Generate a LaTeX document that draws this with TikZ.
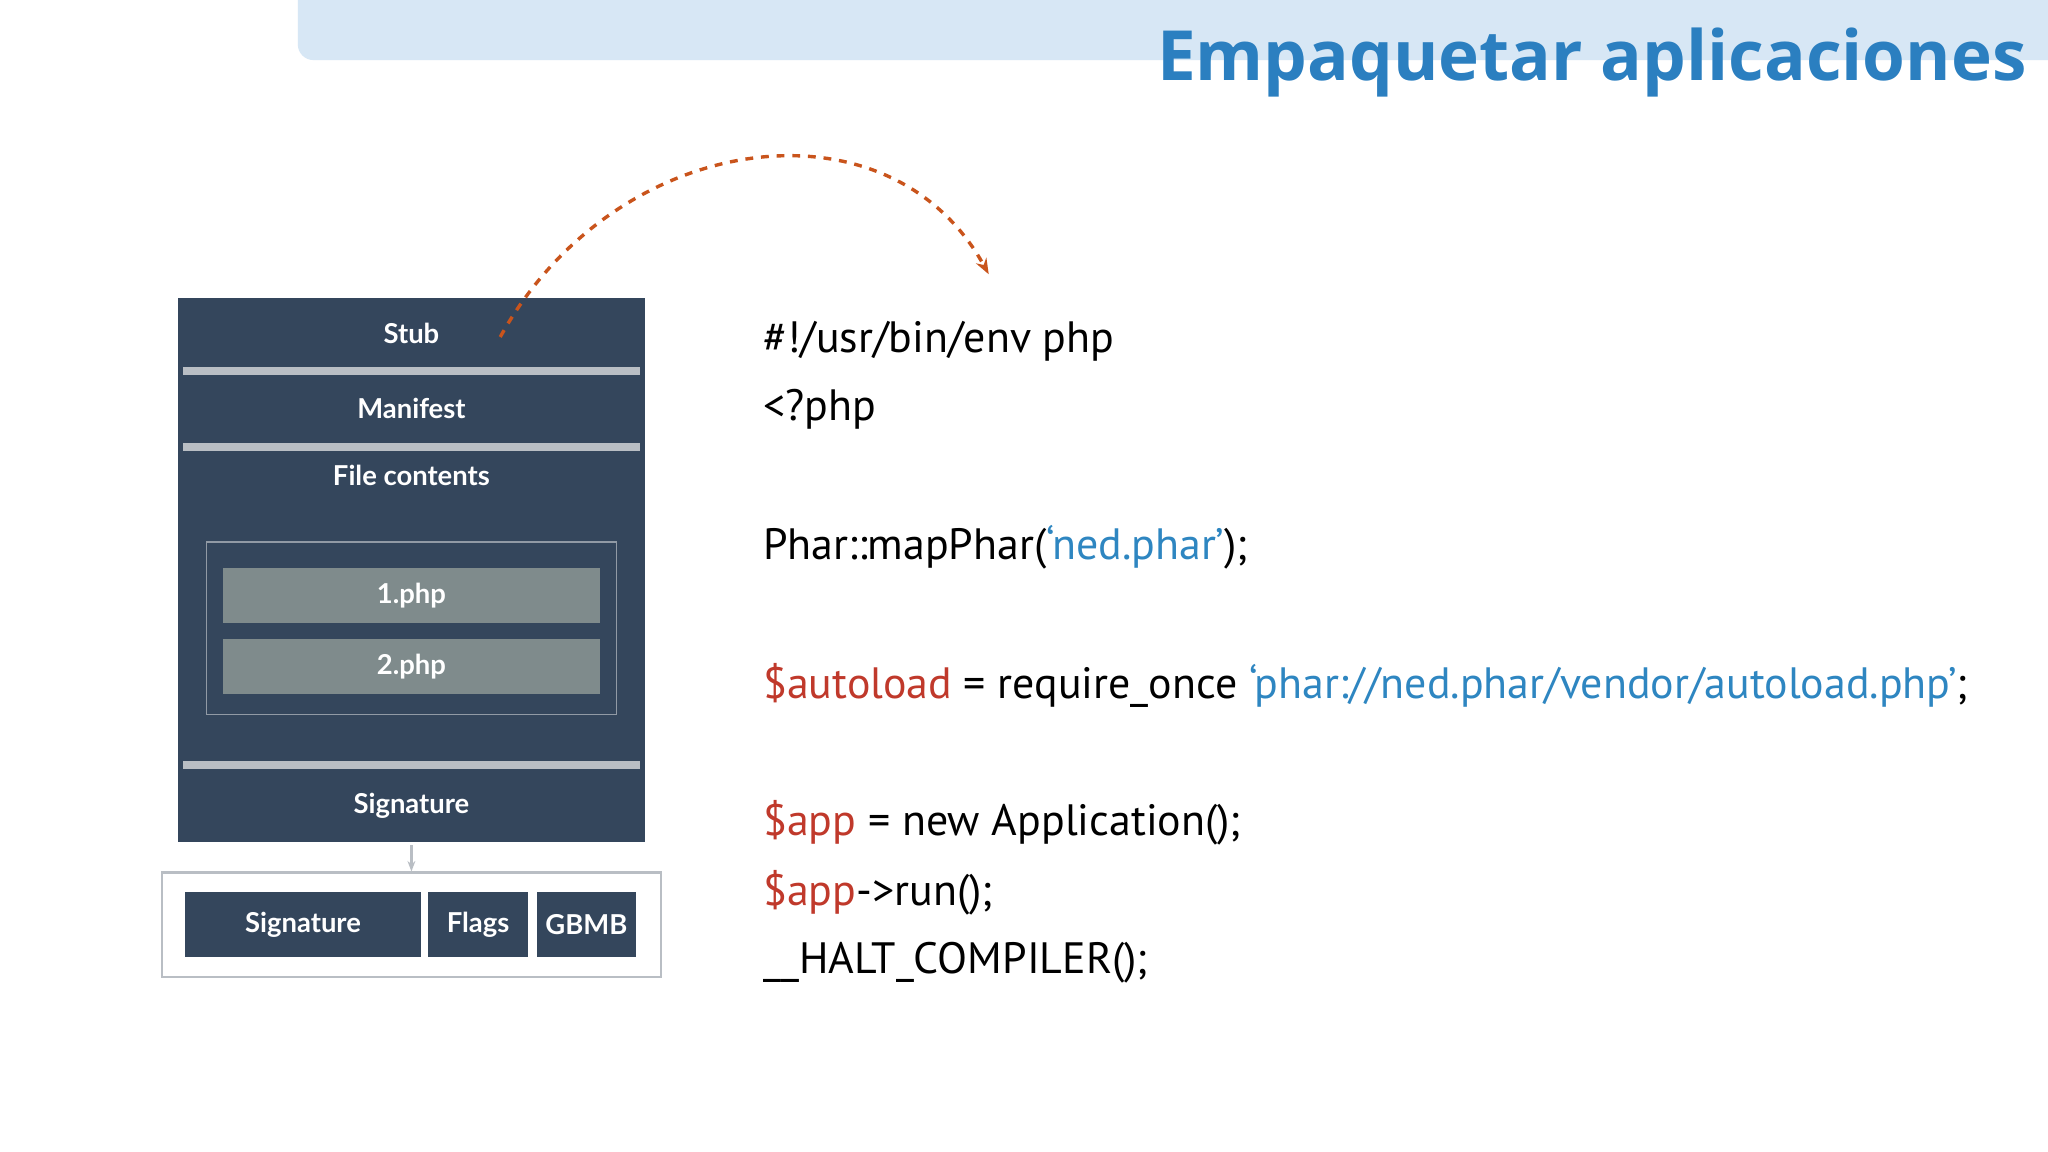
\documentclass[tikz,border=0pt]{standalone}
\usepackage{fontspec}
\setmainfont{Lato}
\newfontfamily\titlefont{Open Sans}
\newfontfamily\codefont{PT Sans}
\usetikzlibrary{arrows.meta}
\definecolor{slate}{HTML}{34465C}
\definecolor{bar}{HTML}{B9BEC4}
\definecolor{filegray}{HTML}{7F8B8C}
\definecolor{titleblue}{HTML}{2B7FC0}
\definecolor{band}{HTML}{D7E7F5}
\definecolor{orng}{HTML}{C9541C}
\definecolor{codered}{HTML}{C0392B}
\definecolor{codeblue}{HTML}{2E86C1}
\tikzset{
  lbl/.style={text=white,font=\bfseries\fontsize{10.5}{12}\selectfont},
  cell/.style={fill=slate,lbl},
  filebox/.style={fill=filegray,lbl},
  sepbar/.style={fill=bar,draw=none},
  codeline/.style={anchor=base west,inner sep=0,font=\codefont\fontsize{16.8}{20}\selectfont},
}
\begin{document}
\begin{tikzpicture}[x=0.5pt,y=-0.5pt]
\useasboundingbox (0,0) rectangle (1568,882);
\fill[white] (0,0) rectangle (1568,882);
% banner
\fill[band,rounded corners=6] (228,-20) rectangle (1600,46);
\node[anchor=base east,inner sep=0,text=titleblue,font=\titlefont\bfseries\fontsize{26.5}{32}\selectfont] (title) at (1552,62) {Empaquetar aplicaciones};
% main box
\fill[slate] (136,228) rectangle (494,645);
\fill[sepbar] (140,281) rectangle (490,287);
\fill[sepbar] (140,339) rectangle (490,345);
\fill[sepbar] (140,583) rectangle (490,589);
\node[lbl] (stub) at (315,255) {Stub};
\node[lbl] (manifest) at (315,313) {Manifest};
\node[lbl] (contents) at (315,364) {File contents};
\node[lbl] (sig) at (315,617) {Signature};
\draw[bar!70!slate,line width=0.6pt] (158,415) rectangle (472,547);
\node[filebox,minimum width=144pt,minimum height=21pt,inner sep=0] (f1) at (315,456) {1.php};
\node[filebox,minimum width=144pt,minimum height=21pt,inner sep=0] (f2) at (315,510) {2.php};
% bottom
\node[draw=bar,line width=0.8pt,fill=white,minimum width=191pt,minimum height=40pt,inner sep=0] (bottom) at (315,708) {};
\node[cell,minimum width=90pt,minimum height=25pt,inner sep=0] (s2) at (232,708) {Signature};
\node[cell,minimum width=38pt,minimum height=25pt,inner sep=0] (flags) at (366,708) {Flags};
\node[cell,minimum width=38pt,minimum height=25pt,inner sep=0] (gbmb) at (449,708) {GBMB};
\draw[bar,line width=1.2pt,-{Stealth[length=4pt]}] (sig.south |- 0,647) -- (bottom.north);
% code
\coordinate (cs) at (383,258);
\coordinate (ce) at (757,210);
\draw[orng,line width=1.3pt,dash pattern=on 3pt off 3pt,-{Stealth[length=6pt]}] (cs) .. controls (470,100) and (680,70) .. (ce);
\node[codeline] (c1) at (584,270) {\#!/usr/bin/env php};
\node[codeline] (c2) at (584,322) {<?php};
\node[codeline] (c3) at (584,428) {Phar::mapPhar(\textcolor{codeblue}{‘ned.phar’});};
\node[codeline] (c4) at (584,535) {\textcolor{codered}{\$autoload} = require\_once \textcolor{codeblue}{‘phar://ned.phar/vendor/autoload.php’};};
\node[codeline] (c5) at (584,640) {\textcolor{codered}{\$app} = new Application();};
\node[codeline] (c6) at (584,693) {\textcolor{codered}{\$app}->run();};
\node[codeline] (c7) at (584,745) {\_\_HALT\_COMPILER();};
\end{tikzpicture}
\end{document}
